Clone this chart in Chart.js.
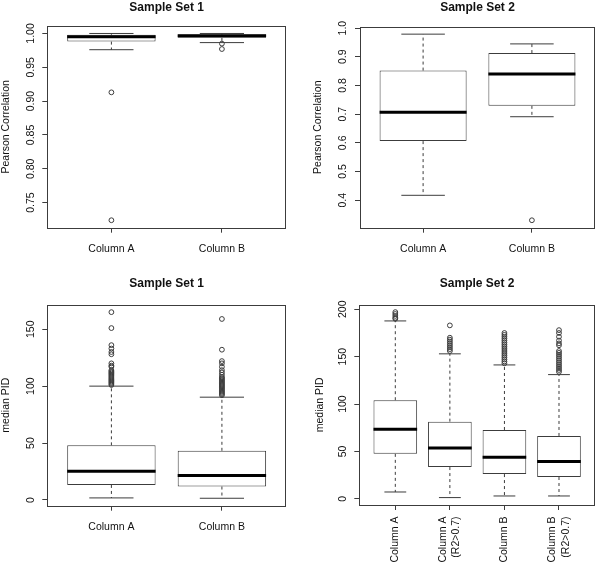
<!DOCTYPE html>
<html>
<head>
<meta charset="utf-8">
<script src="https://cdn.jsdelivr.net/npm/chart.js@4"></script>
<style>
body { margin: 0; background: #fff; }
#wrap { position: relative; width: 600px; height: 568px; }
canvas { position: absolute; }
</style>
</head>
<body>
<div id="wrap">
<canvas id="c1" width="300" height="270" style="left:0;top:0"></canvas>
<canvas id="c2" width="300" height="270" style="left:300px;top:0"></canvas>
<canvas id="c3" width="300" height="298" style="left:0;top:270px"></canvas>
<canvas id="c4" width="300" height="298" style="left:300px;top:270px"></canvas>
</div>
<script>
// ---- data ----

// top row: Pearson correlation
var corrCats = ['Column A', 'Column B'];

var s1CorrLow  = [0.976, 0.9865];
var s1CorrQ1   = [0.988, 0.9935];
var s1CorrMed  = [0.995, 0.9965];
var s1CorrQ3   = [0.998, 0.9985];
var s1CorrHigh = [1.000, 1.000];
var s1CorrOutA = [0.913, 0.724];
var s1CorrOutB = [0.985, 0.977];
var s1CorrTicks = [0.75, 0.80, 0.85, 0.90, 0.95, 1.00];
var s1CorrTickLabels = ['0.75', '0.80', '0.85', '0.90', '0.95', '1.00'];

var s2CorrLow  = [0.417, 0.691];
var s2CorrQ1   = [0.606, 0.729];
var s2CorrMed  = [0.707, 0.840];
var s2CorrQ3   = [0.852, 0.913];
var s2CorrHigh = [0.979, 0.945];
var s2CorrOutA = [];
var s2CorrOutB = [0.330];
var s2CorrTicks = [0.4, 0.5, 0.6, 0.7, 0.8, 0.9, 1.0];
var s2CorrTickLabels = ['0.4', '0.5', '0.6', '0.7', '0.8', '0.9', '1.0'];

// bottom row: median PID
var pidCats1 = ['Column A', 'Column B'];
var s1PidLow  = [1.8, 1.5];
var s1PidQ1   = [13.2, 11.8];
var s1PidMed  = [25.3, 21.5];
var s1PidQ3   = [48.0, 43.2];
var s1PidHigh = [100.0, 90.3];
var s1PidOutA = [165, 151, 136, 133, 130, 128, 120, 118, 117, 114, 113, 112, 111, 110, 109, 108, 107, 106, 105, 104, 103, 102, 101];
var s1PidOutB = [159, 132, 122, 120, 117, 114, 112, 110, 108, 107, 106, 105, 104, 103, 102, 101, 100, 99, 98, 97, 96, 95, 94, 93, 92];
var s1PidTicks = [0, 50, 100, 150];
var s1PidTickLabels = ['0', '50', '100', '150'];

var pidCats2 = [['Column A'], ['Column A', '(R2>0.7)'], ['Column B'], ['Column B', '(R2>0.7)']];
var s2PidLow  = [7.3, 1.4, 3.1, 3.1];
var s2PidQ1   = [47.5, 33.6, 26.2, 23.1];
var s2PidMed  = [73.4, 53.8, 44.0, 39.5];
var s2PidQ3   = [104.1, 81.5, 72.7, 66.4];
var s2PidHigh = [187.7, 153.0, 141.3, 131.1];
var s2PidOutA  = [197, 195, 193, 191, 190];
var s2PidOutAR = [183, 170, 168, 166, 164, 162, 160, 158, 156];
var s2PidOutB  = [175, 173, 171, 169, 167, 165, 163, 161, 159, 157, 155, 153, 151, 149, 147, 145, 143];
var s2PidOutBR = [178, 175, 171, 167, 164, 162, 156, 154, 152, 150, 148, 146, 144, 142, 140, 138, 136, 134];
var s2PidTicks = [0, 50, 100, 150, 200];
var s2PidTickLabels = ['0', '50', '100', '150', '200'];

// ---- drawing ----
var LINE = '#3c3c3c';
var TEXT = '#111';
Chart.defaults.font.family = '"Liberation Sans", Arial, sans-serif';
Chart.defaults.font.size = 10.5;
Chart.defaults.color = TEXT;

function seg(ctx, x1, y1, x2, y2) {
    ctx.beginPath();
    ctx.moveTo(x1, y1);
    ctx.lineTo(x2, y2);
    ctx.stroke();
}

// whiskers, medians, frame, tick labels and title
function boxPlugin(p) {
    return {
        id: 'boxes',
        afterDatasetsDraw: function(chart) {
            var ctx = chart.ctx, ys = chart.scales.y, xs = chart.scales.x, a = chart.chartArea;
            var bars = chart.getDatasetMeta(0).data;
            ctx.save();
            ctx.lineWidth = 1;
            bars.forEach(function(bar, i) {
                var b = bar.getProps(['x', 'width'], true);
                var cx = b.x, half = b.width / 2;
                var yLo = ys.getPixelForValue(p.low[i]), yHi = ys.getPixelForValue(p.high[i]);
                var yQ1 = ys.getPixelForValue(p.q1[i]), yQ3 = ys.getPixelForValue(p.q3[i]);
                var yMed = ys.getPixelForValue(p.med[i]);
                ctx.strokeStyle = LINE;
                ctx.lineWidth = 1;
                ctx.setLineDash([3, 3]);
                seg(ctx, cx, yQ3, cx, yHi);
                seg(ctx, cx, yQ1, cx, yLo);
                ctx.setLineDash([]);
                seg(ctx, cx - half / 2, yHi, cx + half / 2, yHi);
                seg(ctx, cx - half / 2, yLo, cx + half / 2, yLo);
                ctx.strokeStyle = '#000';
                ctx.lineWidth = 3;
                seg(ctx, cx - half, yMed, cx + half, yMed);
            });

            // frame
            ctx.strokeStyle = LINE;
            ctx.lineWidth = 1;
            ctx.strokeRect(Math.round(a.left) + 0.5, Math.round(a.top) + 0.5,
                Math.round(a.right - a.left) - 1, Math.round(a.bottom - a.top));

            ctx.fillStyle = TEXT;
            ctx.font = '10.5px "Liberation Sans", Arial, sans-serif';

            // y tick labels, rotated like R
            p.ticks.forEach(function(v, i) {
                ctx.save();
                ctx.translate(a.left - 16.5, ys.getPixelForValue(v));
                ctx.rotate(-Math.PI / 2);
                ctx.textAlign = 'center';
                ctx.textBaseline = 'middle';
                ctx.fillText(p.tickLabels[i], 0, 0);
                ctx.restore();
            });

            // x tick labels
            p.cats.forEach(function(c, i) {
                var px = xs.getPixelForValue(i + 1);
                if (p.rotateX) {
                    c.forEach(function(line, j) {
                        ctx.save();
                        ctx.translate(px + (j - (c.length - 1) / 2) * 13.3, a.bottom + 11.5);
                        ctx.rotate(-Math.PI / 2);
                        ctx.textAlign = 'right';
                        ctx.textBaseline = 'middle';
                        ctx.fillText(line, 0, 0);
                        ctx.restore();
                    });
                } else {
                    ctx.textAlign = 'center';
                    ctx.textBaseline = 'alphabetic';
                    ctx.fillText(c, px, a.bottom + 24.3);
                }
            });

            // panel title
            ctx.font = 'bold 12px "Liberation Sans", Arial, sans-serif';
            ctx.textAlign = 'center';
            ctx.textBaseline = 'alphabetic';
            ctx.fillText(p.title, (a.left + a.right) / 2, p.titleY);
            ctx.restore();
        }
    };
}

function drawPanel(id, p) {
    var canvas = document.getElementById(id);
    var n = p.cats.length;
    var all = p.low.concat(p.high);
    p.out.forEach(function(o) { all = all.concat(o); });
    var lo = Math.min.apply(null, all), hi = Math.max.apply(null, all);
    var ext = (hi - lo) * 0.04;

    var boxes = p.cats.map(function(c, i) { return {x: i + 1, y: [p.q1[i], p.q3[i]]}; });
    var pts = [];
    p.out.forEach(function(o, i) {
        o.forEach(function(v) { pts.push({x: i + 1, y: v}); });
    });

    var grid = {drawOnChartArea: false, drawTicks: true, tickLength: 5, color: LINE, lineWidth: 1, offset: false};

    new Chart(canvas, {
        type: 'bar',
        data: {
            datasets: [{
                data: boxes,
                backgroundColor: '#fff',
                borderColor: LINE,
                borderWidth: 1,
                borderSkipped: false,
                barPercentage: 0.8,
                categoryPercentage: 1
            }, {
                type: 'scatter',
                data: pts,
                pointRadius: 2.4,
                borderWidth: 1,
                borderColor: LINE,
                backgroundColor: 'rgba(0,0,0,0)'
            }]
        },
        options: {
            responsive: false,
            animation: false,
            layout: {padding: {left: p.padLeft, top: p.top, right: canvas.width - p.right, bottom: 0}},
            plugins: {legend: {display: false}, tooltip: {enabled: false}},
            scales: {
                x: {
                    type: 'linear',
                    min: 0.5 - 0.04 * n,
                    max: n + 0.5 + 0.04 * n,
                    offset: false,
                    ticks: {display: false},
                    grid: grid,
                    border: {display: false},
                    afterBuildTicks: function(s) {
                        s.ticks = p.cats.map(function(c, i) { return {value: i + 1}; });
                    },
                    afterFit: function(s) { s.height = canvas.height - p.bottom; }
                },
                y: {
                    type: 'linear',
                    min: lo - ext,
                    max: hi + ext,
                    ticks: {display: false},
                    grid: grid,
                    border: {display: false},
                    title: {display: true, text: p.yTitle, color: TEXT, font: {size: 10.5}, padding: 0},
                    afterBuildTicks: function(s) {
                        s.ticks = p.ticks.map(function(v) { return {value: v}; });
                    },
                    afterFit: function(s) { s.width = p.left - p.padLeft; }
                }
            }
        },
        plugins: [boxPlugin(p)]
    });
}

drawPanel('c1', {
    title: 'Sample Set 1', yTitle: 'Pearson Correlation', cats: corrCats,
    low: s1CorrLow, q1: s1CorrQ1, med: s1CorrMed, q3: s1CorrQ3, high: s1CorrHigh,
    out: [s1CorrOutA, s1CorrOutB], ticks: s1CorrTicks, tickLabels: s1CorrTickLabels,
    padLeft: 0, left: 47.3, right: 286, top: 26, bottom: 227.7, titleY: 10.5
});
drawPanel('c2', {
    title: 'Sample Set 2', yTitle: 'Pearson Correlation', cats: corrCats,
    low: s2CorrLow, q1: s2CorrQ1, med: s2CorrMed, q3: s2CorrQ3, high: s2CorrHigh,
    out: [s2CorrOutA, s2CorrOutB], ticks: s2CorrTicks, tickLabels: s2CorrTickLabels,
    padLeft: 11.4, left: 60, right: 297.7, top: 26.7, bottom: 227.7, titleY: 10.5
});
drawPanel('c3', {
    title: 'Sample Set 1', yTitle: 'median PID', cats: pidCats1,
    low: s1PidLow, q1: s1PidQ1, med: s1PidMed, q3: s1PidQ3, high: s1PidHigh,
    out: [s1PidOutA, s1PidOutB], ticks: s1PidTicks, tickLabels: s1PidTickLabels,
    padLeft: 0, left: 47.3, right: 286, top: 34.7, bottom: 235.7, titleY: 17.4
});
drawPanel('c4', {
    title: 'Sample Set 2', yTitle: 'median PID', cats: pidCats2, rotateX: true,
    low: s2PidLow, q1: s2PidQ1, med: s2PidMed, q3: s2PidQ3, high: s2PidHigh,
    out: [s2PidOutA, s2PidOutAR, s2PidOutB, s2PidOutBR], ticks: s2PidTicks, tickLabels: s2PidTickLabels,
    padLeft: 14, left: 59.3, right: 297.7, top: 34.7, bottom: 235, titleY: 17.4
});
</script>
</body>
</html>
